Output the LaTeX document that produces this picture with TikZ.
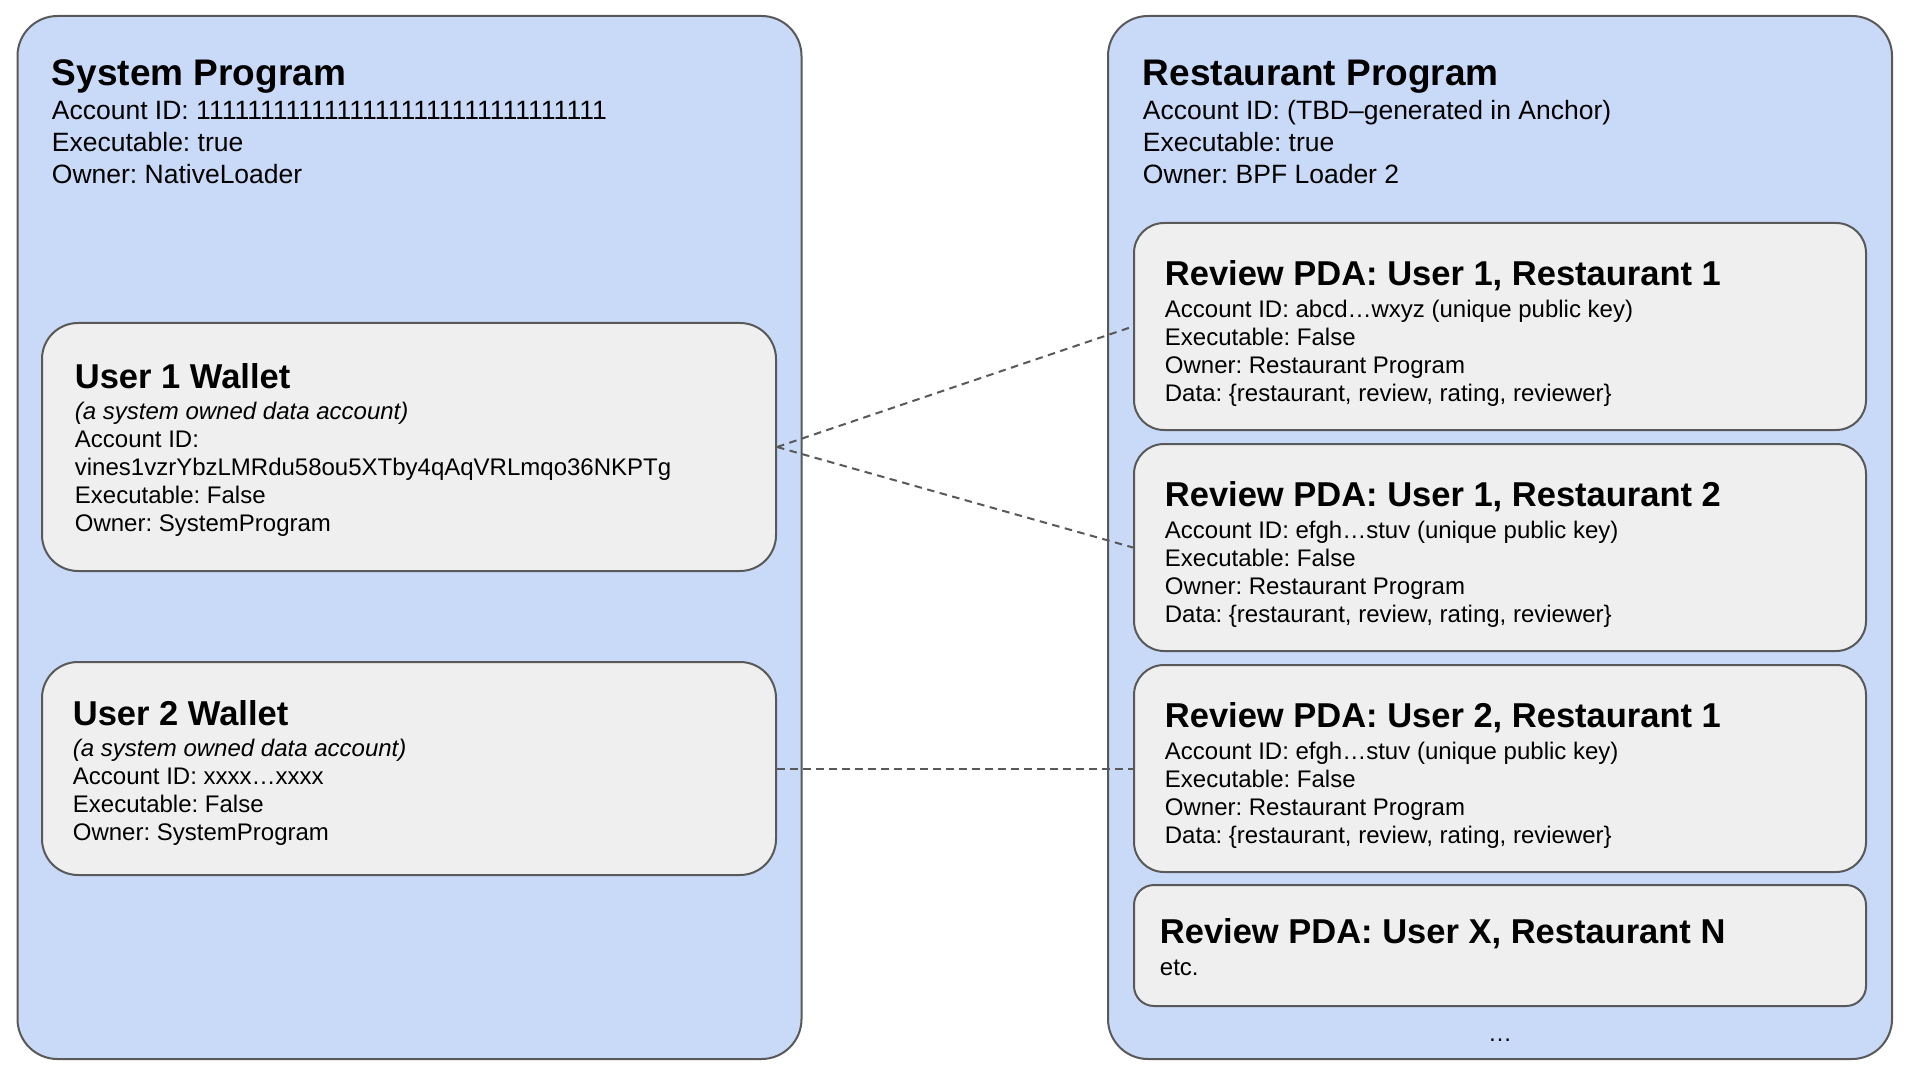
\documentclass[tikz,border=0pt]{standalone}
\usepackage{fontspec}
\setmainfont{Liberation Sans}
\usepackage{xcolor}
\usetikzlibrary{positioning, calc}

\definecolor{progblue}{HTML}{C9DAF8}
\definecolor{acctgray}{HTML}{EFEFEF}
\definecolor{edgegray}{HTML}{595959}

\frenchspacing
\newcommand{\progtitle}[1]{{\fontsize{18.5}{16}\selectfont\bfseries\rule{0pt}{14pt}#1}}
\newcommand{\accttitle}[1]{{\fontsize{17.25}{14}\selectfont\bfseries\rule{0pt}{14pt}#1}}

\begin{document}
\begin{tikzpicture}[
      x=0.5pt, y=-0.5pt,
      program/.style={rectangle, draw=edgegray, line width=1pt, fill=progblue, rounded corners=20pt, minimum width=392pt, minimum height=521.5pt, inner sep=0pt},
      account/.style={rectangle, draw=edgegray, line width=1pt, fill=acctgray, rounded corners=15pt, inner sep=0pt},
      wallet/.style={account, rounded corners=18pt, minimum width=367pt},
      review/.style={account, minimum width=366pt, minimum height=103.5pt},
      progtext/.style={anchor=north west, inner sep=0pt, align=left, font=\fontsize{13.25}{16}\selectfont},
      accttext/.style={anchor=north west, inner sep=0pt, align=left, font=\fontsize{12}{14}\selectfont},
      link/.style={draw=edgegray, line width=1pt, dash pattern=on 3.75pt off 2.75pt}
    ]
      \path[fill=white, use as bounding box] (0,0) rectangle (1920,1080);

      % the two programs
      \node[program] (sysprog) at (409.5,537.5) {};
      \node[program] (restprog) at (1500,537.5) {};
      \node[progtext] (systext) at (51.5,57) {\progtitle{System Program}\\[1pt]
        Account ID: 11111111111111111111111111111111\\
        Executable: true\\
        Owner: NativeLoader};
      \node[progtext] (resttext) at (1142.5,57) {\progtitle{Restaurant Program}\\[1pt]
        Account ID: (TBD–generated in Anchor)\\
        Executable: true\\
        Owner: BPF Loader 2};

      % wallets
      \node[wallet, minimum height=124pt] (wallet1) at (409,447) {};
      \node[wallet, minimum height=106.5pt] (wallet2) at (409,768.5) {};
      \node[accttext] (wallet1text) at (74.5,360) {\accttitle{User 1 Wallet}\\[1.5pt]
        {\itshape (a system owned data account)}\\
        Account ID:\\
        vines1vzrYbzLMRdu58ou5XTby4qAqVRLmqo36NKPTg\\
        Executable: False\\
        Owner: SystemProgram};
      \node[accttext] (wallet2text) at (72.5,697) {\accttitle{User 2 Wallet}\\[1.5pt]
        {\itshape (a system owned data account)}\\
        Account ID: xxxx…xxxx\\
        Executable: False\\
        Owner: SystemProgram};

      % review PDAs
      \node[review] (review1) at (1500,326.5) {};
      \node[review] (review2) at (1500,547.5) {};
      \node[review] (review3) at (1500,768.5) {};
      \node[review, minimum height=60.5pt, rounded corners=10pt] (reviewx) at (1500,945.5) {};
      \node[accttext] (review1text) at (1164.5,257) {\accttitle{Review PDA: User 1, Restaurant 1}\\[2pt]
        Account ID: abcd…wxyz (unique public key)\\
        Executable: False\\
        Owner: Restaurant Program\\
        Data: \{restaurant, review, rating, reviewer\}};
      \node[accttext] (review2text) at (1164.5,478) {\accttitle{Review PDA: User 1, Restaurant 2}\\[2pt]
        Account ID: efgh…stuv (unique public key)\\
        Executable: False\\
        Owner: Restaurant Program\\
        Data: \{restaurant, review, rating, reviewer\}};
      \node[accttext] (review3text) at (1164.5,699) {\accttitle{Review PDA: User 2, Restaurant 1}\\[2pt]
        Account ID: efgh…stuv (unique public key)\\
        Executable: False\\
        Owner: Restaurant Program\\
        Data: \{restaurant, review, rating, reviewer\}};
      \node[accttext] (reviewxtext) at (1159.5,915) {\accttitle{Review PDA: User X, Restaurant N}\\[2pt]
        etc.};
      \node[anchor=base, font=\fontsize{12}{14}\selectfont] (more) at (1500,1041) {…};

      % links
      \draw[link] (wallet1.east) -- (review1.west);
      \draw[link] (wallet1.east) -- (review2.west);
      \draw[link] (wallet2.east) -- (review3.west);
    \end{tikzpicture}
\end{document}
